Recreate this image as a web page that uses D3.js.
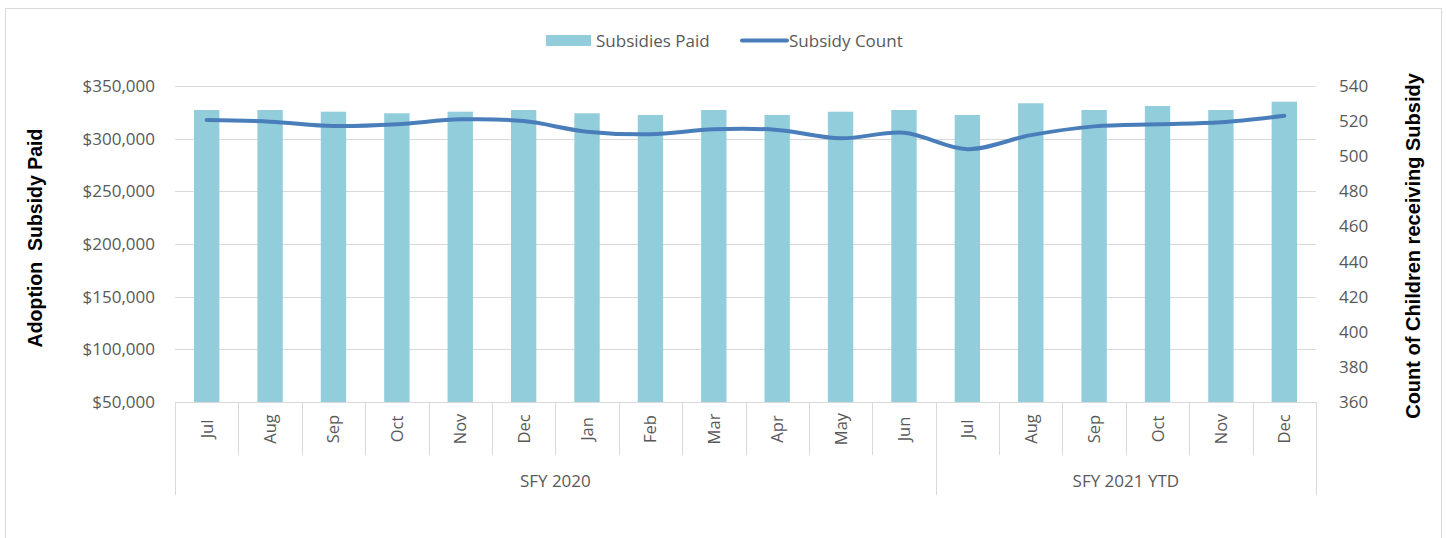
<!DOCTYPE html>
<html>
<head>
<meta charset="utf-8">
<script src="https://cdn.jsdelivr.net/npm/d3@7"></script>
<style>
  html, body { margin: 0; padding: 0; background: #fff; }
  svg { display: block; }
</style>
</head>
<body>
<div id="chart"></div>
<script>
const months = ["Jul","Aug","Sep","Oct","Nov","Dec","Jan","Feb","Mar","Apr","May","Jun",
                "Jul","Aug","Sep","Oct","Nov","Dec"];
const years = ["SFY 2020","SFY 2020","SFY 2020","SFY 2020","SFY 2020","SFY 2020",
               "SFY 2020","SFY 2020","SFY 2020","SFY 2020","SFY 2020","SFY 2020",
               "SFY 2021 YTD","SFY 2021 YTD","SFY 2021 YTD","SFY 2021 YTD","SFY 2021 YTD","SFY 2021 YTD"];
const subsidiesPaid = [327200, 327200, 325600, 324100, 325600, 327200, 324100, 322500, 327200,
                       322500, 325600, 327200, 322500, 333600, 327200, 331000, 327200, 335100];
const subsidyCount = [520.6, 519.7, 517.2, 518.2, 521, 520, 514, 512.5, 515.3,
                      515, 510.2, 513.4, 504, 512, 517, 518.2, 519.3, 523];
const leftTicks = [50000, 100000, 150000, 200000, 250000, 300000, 350000];
const rightTicks = [360, 380, 400, 420, 440, 460, 480, 500, 520, 540];
const seriesNames = ["Subsidies Paid", "Subsidy Count"];

const W = 1447, H = 538;
const plot = { left: 175, right: 1316, top: 86, bottom: 402 };
const font = "'Open Sans', 'Liberation Sans', sans-serif";
const barColor = "#92cddc", lineColor = "#4a7ebb", textColor = "#595959";

const svg = d3.select("#chart").append("svg").attr("width", W).attr("height", H);

// outer border
svg.append("path").attr("d", `M5.5,${H} V8.5 H1441.5 V${H}`)
  .attr("fill", "none").attr("stroke", "#d9d9d9").attr("stroke-width", 1);

const idx = months.map((m, i) => i);
const x = d3.scaleBand().domain(idx).range([plot.left, plot.right]).paddingInner(0.6).paddingOuter(0.3);
const yL = d3.scaleLinear().domain([50000, 350000]).range([plot.bottom, plot.top]);
const yR = d3.scaleLinear().domain([360, 540]).range([plot.bottom, plot.top]);

// gridlines
svg.append("g").selectAll("line").data(leftTicks.filter(t => t > 50000)).join("line")
  .attr("x1", plot.left).attr("x2", plot.right)
  .attr("y1", d => Math.round(yL(d)) + 0.5).attr("y2", d => Math.round(yL(d)) + 0.5)
  .attr("stroke", "#d9d9d9").attr("stroke-width", 1);

// left axis
const axL = svg.append("g").attr("transform", `translate(${plot.left},0)`)
  .call(d3.axisLeft(yL).tickValues(leftTicks).tickSize(0).tickPadding(20)
    .tickFormat(d => "$" + d3.format(",")(d)));
axL.select(".domain").remove();
axL.selectAll("text").attr("font-family", font).attr("font-size", 17).attr("fill", textColor);

// right axis
const axR = svg.append("g").attr("transform", `translate(${plot.right},0)`)
  .call(d3.axisRight(yR).tickValues(rightTicks).tickSize(0).tickPadding(23));
axR.select(".domain").remove();
axR.selectAll("text").attr("font-family", font).attr("font-size", 17).attr("fill", textColor);

// bars
svg.append("g").selectAll("rect").data(subsidiesPaid).join("rect")
  .attr("x", (d, i) => x(i)).attr("width", x.bandwidth())
  .attr("y", d => yL(d)).attr("height", d => yL(50000) - yL(d))
  .attr("fill", barColor);

// x axis baseline and separators
const xa = svg.append("g").attr("stroke", "#d9d9d9").attr("stroke-width", 1);
xa.append("line").attr("x1", plot.left).attr("x2", plot.right)
  .attr("y1", plot.bottom + 0.5).attr("y2", plot.bottom + 0.5);
const bounds = d3.range(months.length + 1);
xa.selectAll("line.sep").data(bounds).join("line").attr("class", "sep")
  .attr("x1", i => Math.round(plot.left + i * (plot.right - plot.left) / months.length) + 0.5)
  .attr("x2", i => Math.round(plot.left + i * (plot.right - plot.left) / months.length) + 0.5)
  .attr("y1", plot.bottom)
  .attr("y2", i => (i === 0 || i === months.length || years[i] !== years[i - 1]) ? 495 : 455);

// month labels
svg.append("g").selectAll("text").data(months).join("text")
  .attr("transform", (d, i) => `translate(${x(i) + x.bandwidth() / 2 + 6},429) rotate(-90)`)
  .attr("text-anchor", "middle")
  .attr("font-family", font).attr("font-size", 16.5).attr("fill", textColor)
  .text(d => d);

// group labels
const groups = Array.from(d3.group(idx, i => years[i]), ([k, v]) => ({ k, v }));
svg.append("g").selectAll("text").data(groups).join("text")
  .attr("x", d => (x(d.v[0]) + x(d.v[d.v.length - 1]) + x.bandwidth()) / 2)
  .attr("y", 487)
  .attr("text-anchor", "middle")
  .attr("font-family", font).attr("font-size", 17).attr("fill", textColor)
  .text(d => d.k);

// line
const line = d3.line().x((d, i) => x(i) + x.bandwidth() / 2).y(d => yR(d)).curve(d3.curveCatmullRom);
svg.append("path").datum(subsidyCount).attr("d", line)
  .attr("fill", "none").attr("stroke", lineColor).attr("stroke-width", 4)
  .attr("stroke-linecap", "round").attr("stroke-linejoin", "round");

// axis titles
svg.append("text").attr("transform", `translate(42,238) rotate(-90)`)
  .attr("text-anchor", "middle").attr("font-family", "'Liberation Sans', Arial, sans-serif")
  .attr("font-weight", "bold").attr("font-size", 19.5).attr("fill", "#000")
  .attr("xml:space", "preserve").style("white-space", "pre")
  .text("Adoption  Subsidy Paid");
svg.append("text").attr("transform", `translate(1420,246) rotate(-90)`)
  .attr("text-anchor", "middle").attr("font-family", "'Liberation Sans', Arial, sans-serif")
  .attr("font-weight", "bold").attr("font-size", 20).attr("fill", "#000")
  .text("Count of Children receiving Subsidy");

// legend
const lg = svg.append("g");
lg.append("rect").attr("x", 546).attr("y", 35).attr("width", 45).attr("height", 11).attr("fill", barColor);
lg.append("text").attr("x", 596).attr("y", 46.5).attr("font-family", font).attr("font-size", 17)
  .attr("fill", textColor).text(seriesNames[0]);
lg.append("line").attr("x1", 742).attr("x2", 787).attr("y1", 40.5).attr("y2", 40.5)
  .attr("stroke", lineColor).attr("stroke-width", 4).attr("stroke-linecap", "round");
lg.append("text").attr("x", 789).attr("y", 46.5).attr("font-family", font).attr("font-size", 17)
  .attr("fill", textColor).text(seriesNames[1]);
</script>
</body>
</html>
